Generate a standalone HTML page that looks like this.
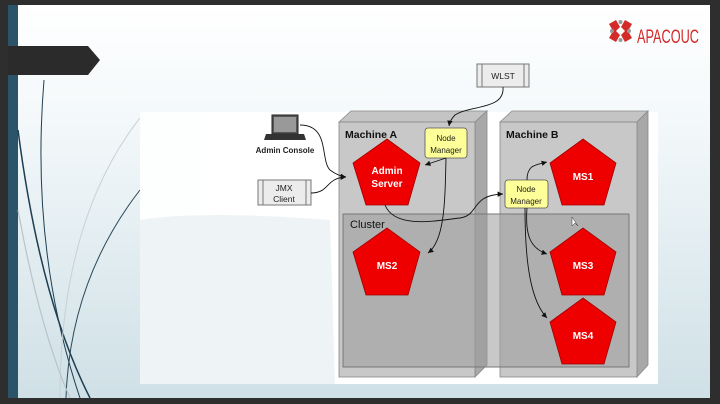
<!DOCTYPE html>
<html><head><style>
html,body{margin:0;padding:0;background:#2e2e2e;}
svg{display:block;font-family:"Liberation Sans",sans-serif;}
</style></head><body>
<svg width="720" height="404" viewBox="0 0 720 404">
<defs>
<linearGradient id="bg" x1="0" y1="0" x2="0" y2="1">
<stop offset="0" stop-color="#ffffff"/><stop offset="0.3" stop-color="#f3f8fa"/><stop offset="1" stop-color="#cfe0e6"/>
</linearGradient>
<marker id="ar" markerWidth="8" markerHeight="8" refX="6" refY="3" orient="auto"><path d="M0,0 L6,3 L0,6 Z" fill="#111"/></marker>
<marker id="as" markerWidth="8" markerHeight="8" refX="0" refY="3" orient="auto"><path d="M6,0 L0,3 L6,6 Z" fill="#111"/></marker>
</defs>
<rect x="0" y="0" width="720" height="404" fill="#2e2e2e"/>
<rect x="8" y="5" width="702" height="393" fill="url(#bg)"/>
<rect x="8" y="5" width="10" height="393" fill="#2c5468"/>
<!-- curves -->
<g fill="none">
<path d="M44 80 Q30 250 80 398" stroke="#1e3e50" stroke-width="1"/>
<path d="M18 130 Q40 300 90 398" stroke="#1e3e50" stroke-width="1.5"/>
<path d="M140 118 Q60 220 60 398" stroke="#c8d0d4" stroke-width="1"/>
<path d="M140 190 Q70 280 66 398" stroke="#2a4858" stroke-width="1"/>
<path d="M18 210 Q40 330 70 398" stroke="#b8c4c8" stroke-width="1.2"/>
</g>
<!-- banner -->
<path d="M8 46 L88 46 L100 60 L88 75 L8 75 Z" fill="#2b2b2b"/>
<!-- logo -->
<g fill="#d42a2a">
<path d="M609 24 L616 20 L620 27 L616 31 L620 35 L616 42 L609 38 L613 31 Z"/>
<path d="M632 24 L625 20 L621 27 L625 31 L621 35 L625 42 L632 38 L628 31 Z"/>
<circle cx="620.5" cy="22" r="2" fill="#999"/><circle cx="620.5" cy="40" r="2" fill="#999"/>
<circle cx="612" cy="31" r="2" fill="#999"/><circle cx="629" cy="31" r="2" fill="#999"/>
</g>
<text x="637" y="43" font-size="19" fill="#d42a2a" textLength="62" lengthAdjust="spacingAndGlyphs">APACOUC</text>
<!-- white area -->
<rect x="140" y="112" width="518" height="272" fill="#ffffff"/>
<rect x="140" y="112" width="60" height="150" fill="#fdfefe"/>
<path d="M140 220 Q200 210 330 220 L335 384 L140 384 Z" fill="#eef4f6"/>
<!-- Machine A -->
<path d="M339 122 L351 111 L487 111 L475 122 Z" fill="#c4c4c4" stroke="#888" stroke-width="0.8"/>
<path d="M475 122 L487 111 L487 365 L475 377 Z" fill="#a8a8a8" stroke="#888" stroke-width="0.8"/>
<rect x="339" y="122" width="136" height="255" fill="#c8c8c8" stroke="#888" stroke-width="0.8"/>
<!-- Machine B -->
<path d="M500 122 L512 111 L648 111 L637 122 Z" fill="#c4c4c4" stroke="#888" stroke-width="0.8"/>
<path d="M637 122 L648 111 L648 365 L637 377 Z" fill="#a8a8a8" stroke="#888" stroke-width="0.8"/>
<rect x="500" y="122" width="137" height="255" fill="#c8c8c8" stroke="#888" stroke-width="0.8"/>
<!-- Cluster -->
<rect x="343" y="214" width="286" height="153" fill="#9a9a9a" fill-opacity="0.55" stroke="#777" stroke-width="1"/>
<g font-weight="bold" font-size="10.5" fill="#111">
<text x="345" y="138">Machine A</text>
<text x="506" y="138">Machine B</text>
<text x="350" y="228" font-weight="normal" font-size="11">Cluster</text>
</g>
<!-- pentagons -->
<g fill="#ee0000" stroke="#a00000" stroke-width="0.8">
<path d="M387 139 L420 163 L408 205 L366 205 L353 163 Z"/>
<path d="M387 228 L420 252 L408 295 L366 295 L353 252 Z"/>
<path d="M583 139 L616 163 L604 205 L562 205 L550 163 Z"/>
<path d="M583 228 L616 252 L604 295 L562 295 L550 252 Z"/>
<path d="M583 298 L616 322 L604 364 L562 364 L550 322 Z"/>
</g>
<g fill="#fff" font-size="10" font-weight="bold" text-anchor="middle">
<text x="387" y="174">Admin</text><text x="387" y="187">Server</text>
<text x="387" y="269">MS2</text>
<text x="583" y="180">MS1</text>
<text x="583" y="269">MS3</text>
<text x="583" y="339">MS4</text>
</g>
<!-- Node managers -->
<rect x="425" y="128" width="42" height="30" rx="3" fill="#ffff99" stroke="#555" stroke-width="0.8"/>
<rect x="505" y="180" width="43" height="28" rx="3" fill="#ffff99" stroke="#555" stroke-width="0.8"/>
<g font-size="8" fill="#222" text-anchor="middle">
<text x="446" y="141">Node</text><text x="446" y="153">Manager</text>
<text x="526" y="192">Node</text><text x="526" y="204">Manager</text>
</g>
<!-- WLST -->
<rect x="477" y="64" width="52" height="23" fill="#ececec" stroke="#777"/>
<line x1="482" y1="64" x2="482" y2="87" stroke="#777"/><line x1="524" y1="64" x2="524" y2="87" stroke="#777"/>
<text x="503" y="79" font-size="8.5" text-anchor="middle" fill="#222">WLST</text>
<!-- JMX -->
<rect x="258" y="180" width="53" height="25" fill="#ececec" stroke="#777"/>
<line x1="263" y1="180" x2="263" y2="205" stroke="#777"/><line x1="306" y1="180" x2="306" y2="205" stroke="#777"/>
<text x="284" y="191" font-size="8.5" text-anchor="middle" fill="#222">JMX</text>
<text x="284" y="202" font-size="8.5" text-anchor="middle" fill="#222">Client</text>
<!-- laptop -->
<rect x="272" y="115" width="26" height="19" fill="#555" stroke="#222"/>
<rect x="274" y="117" width="22" height="15" fill="#999"/>
<path d="M266 134 L304 134 L306 140 L264 140 Z" fill="#333"/>
<text x="285" y="153" font-size="8" font-weight="bold" text-anchor="middle" fill="#222">Admin Console</text>
<!-- connectors -->
<g fill="none" stroke="#111" stroke-width="0.9">
<path d="M300 125 C330 125 320 160 330 170 Q338 176 346 177" marker-end="url(#ar)"/>
<path d="M311 193 C330 193 325 178 346 177" marker-end="url(#ar)"/>
<path d="M503 87 C505 110 470 105 455 115 Q450 120 449 126" marker-end="url(#ar)"/>
<path d="M425 165 L440 160 Q446 158 446 158" marker-start="url(#as)"/>
<path d="M446 158 C445 200 445 240 428 253" marker-end="url(#ar)"/>
<path d="M385 205 C395 230 440 220 460 218 C480 215 470 195 503 194" marker-end="url(#ar)"/>
<path d="M527 180 C527 165 535 165 547 162" marker-end="url(#ar)"/>
<path d="M527 208 C525 235 530 248 547 254" marker-end="url(#ar)"/>
<path d="M525 208 C525 260 530 300 547 318" marker-end="url(#ar)"/>
</g>
<!-- cursor -->
<path d="M572 217 L572 226 L575 223 L578 226 Z" fill="#fff" stroke="#333" stroke-width="0.5"/>
</svg>
</body></html>
